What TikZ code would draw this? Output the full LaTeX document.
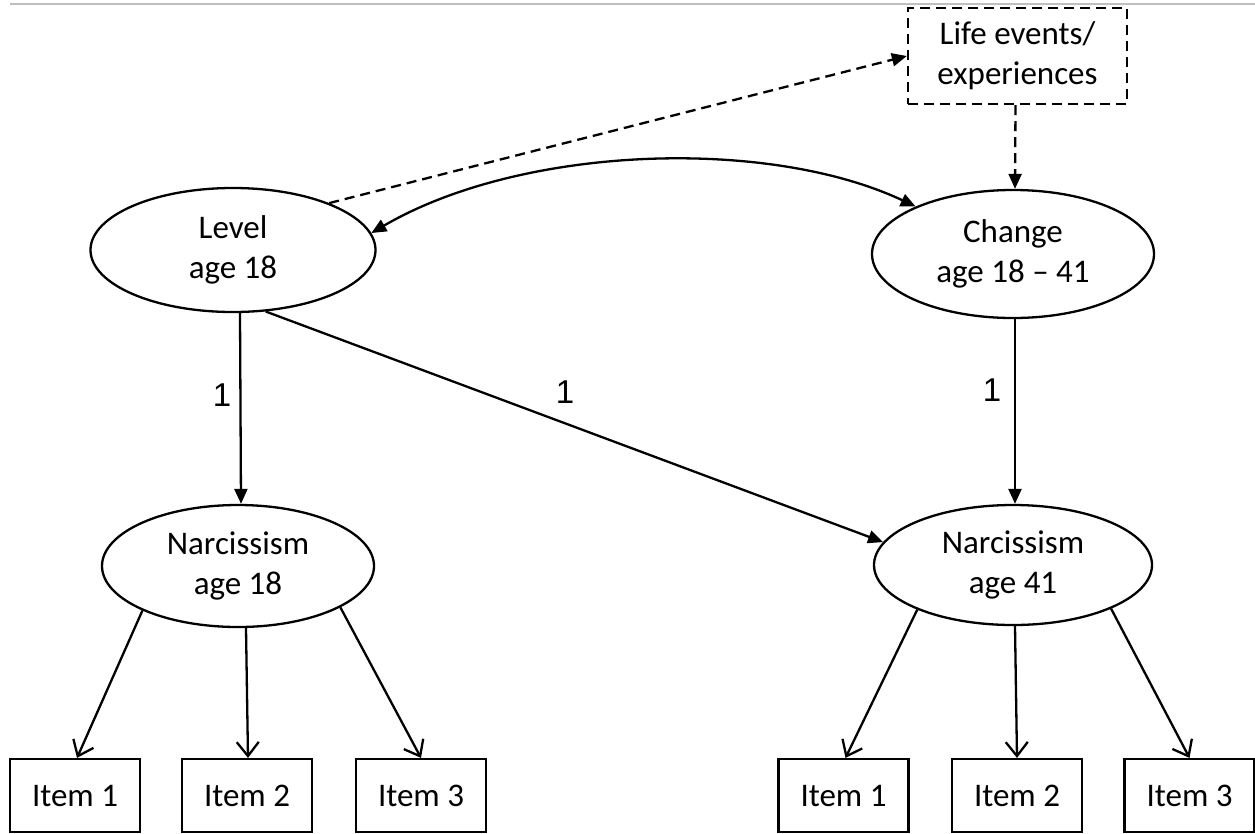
\documentclass[tikz,border=0pt]{standalone}
\usepackage{fontspec}
\setmainfont{Carlito}
\newfontfamily\arialfont{Liberation Sans}
\usetikzlibrary{shapes.geometric,arrows.meta,calc}
\begin{document}
\begin{tikzpicture}[x=1pt,y=-1pt,
  every node/.style={align=center},
  txt/.style={font=\fontsize{33}{40}\selectfont},
  latent/.style={txt, ellipse, draw, line width=2.3pt, inner sep=0pt},
  itembox/.style={txt, rectangle, draw, line width=2.2pt, minimum width=130pt, minimum height=73pt, inner sep=0pt},
  lifebox/.style={txt, rectangle, draw, line width=2.3pt, dash pattern=on 10pt off 6pt, minimum width=219pt, minimum height=96pt, inner sep=0pt},
  pathar/.style={line width=2.3pt, -{Triangle[length=15pt,width=13pt]}},
  dashar/.style={line width=2.3pt, dash pattern=on 10pt off 6pt, -{Triangle[length=15pt,width=13pt]}},
  loadar/.style={line width=2.3pt, -{Straight Barb[length=14pt,width=22pt]}},
  onelabel/.style={font=\arialfont\fontsize{33}{36}\selectfont}
]
\useasboundingbox (0,0) rectangle (1255,833);
\draw[gray!50, line width=1.2pt] (10,4) -- (1255,4);

\node[latent, minimum width=285pt, minimum height=124pt] (level) at (233,250) {Level\\age 18};
\node[latent, minimum width=282pt, minimum height=128pt] (change) at (1013,254) {Change\\age 18 -- 41};
\node[latent, minimum width=272pt, minimum height=122pt] (n18) at (238,566) {Narcissism\\age 18};
\node[latent, minimum width=278pt, minimum height=120pt] (n41) at (1013,565) {Narcissism\\age 41};
\node[lifebox] (life) at (1017.5,56) {Life events/\\experiences};

\node[itembox] (a1) at (75,795.5) {Item 1};
\node[itembox] (a2) at (247,795.5) {Item 2};
\node[itembox] (a3) at (421,795.5) {Item 3};
\node[itembox] (b1) at (843.5,795.5) {Item 1};
\node[itembox] (b2) at (1017,795.5) {Item 2};
\node[itembox] (b3) at (1189.5,795.5) {Item 3};

\draw[pathar] ([xshift=7pt]level.south) -- ([xshift=3pt]n18.north);
\draw[pathar] (level.-62) -- (n41.170);
\draw[pathar] ([xshift=2pt]change.south) -- ([xshift=2pt]n41.north);
\draw[dashar] (level.26) -- (life.west);
\draw[dashar] ([xshift=-2pt]life.south) -- ([xshift=2pt]change.north);
\draw[line width=2.3pt, {Triangle[length=15pt,width=13pt]}-{Triangle[length=15pt,width=13pt]}]
  (level.7) .. controls (522,145) and (768,137) .. (change.154);

\node[onelabel] (l1) at (222,395) {1};
\node[onelabel] (l2) at (565,392) {1};
\node[onelabel] (l3) at (992,390) {1};

\draw[loadar] (n18.205) -- ([xshift=2pt]a1.north);
\draw[loadar] ([xshift=8pt]n18.south) -- ([xshift=1pt]a2.north);
\draw[loadar] (n18.-22) -- (a3.north);
\draw[loadar] (n41.205) -- ([xshift=2pt]b1.north);
\draw[loadar] ([xshift=2pt]n41.south) -- (b2.north);
\draw[loadar] (n41.-24) -- (b3.north);
\end{tikzpicture}
\end{document}
